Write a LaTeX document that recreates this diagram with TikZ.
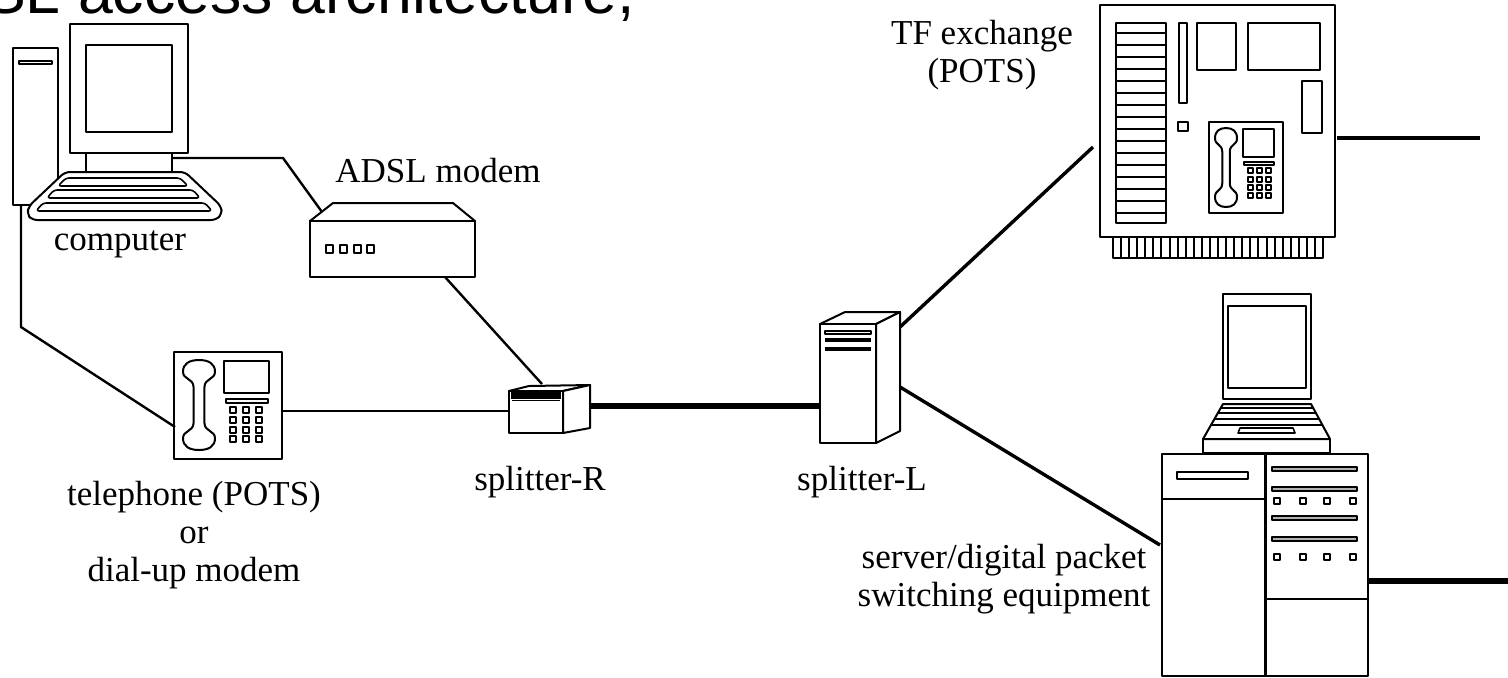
\documentclass[tikz,border=0pt]{standalone}
\usepackage{fontspec}
\setmainfont{Liberation Serif}
\newfontfamily\headfont{Liberation Sans}
% telephone handset (dumbbell outline), centred at x=#1, top at y=#2, width #3, height #4
\newcommand\drawhandset[4]{%
  \draw[shift={(#1,#2)}, xscale=#3, yscale=#4]
    (0,0) .. controls (0.3,0) and (0.5,0.04) .. (0.5,0.13)
          .. controls (0.5,0.22) and (0.18,0.2) .. (0.17,0.3)
          -- (0.17,0.7)
          .. controls (0.18,0.8) and (0.5,0.78) .. (0.5,0.87)
          .. controls (0.5,0.96) and (0.3,1) .. (0,1)
          .. controls (-0.3,1) and (-0.5,0.96) .. (-0.5,0.87)
          .. controls (-0.5,0.78) and (-0.18,0.8) .. (-0.17,0.7)
          -- (-0.17,0.3)
          .. controls (-0.18,0.2) and (-0.5,0.22) .. (-0.5,0.13)
          .. controls (-0.5,0.04) and (-0.3,0) .. (0,0) -- cycle;}
\begin{document}
\begin{tikzpicture}[x=0.5pt, y=-0.5pt, line width=1pt, line join=round,
  lbl/.style={font=\fontsize{17.5}{19}\selectfont, inner sep=0pt, align=center, anchor=base},
  headline/.style={font=\headfont\fontsize{31.3}{31.3}\selectfont, inner sep=0pt, anchor=base west},
  wire/.style={line width=1.2pt},
  feeder/.style={line width=1.7pt},
  trunk/.style={line width=3pt},
  keybar/.style={line width=0.8pt, rounded corners=1.5pt},
  slot/.style={line width=0.8pt}]
\useasboundingbox (0,0) rectangle (1508,677);
\clip (0,0) rectangle (1508,677);

% heading
\node[headline] (heading) at (-62,13) {DSL access architecture,};

% ---------- computer ----------
\draw[fill=white] (13,48) rectangle (58,205);
\draw[line width=1.2pt] (19,61) rectangle (52,64);
\draw[fill=white] (70,24) rectangle (188,153);
\draw (86,45) rectangle (172,132);
\draw (86,153) -- (86,172) (172,153) -- (172,172);
\draw[fill=white, rounded corners=2.5pt] (65,172) -- (185,172) -- (221,206) -- (222,214) -- (216,220)
      -- (32,220) -- (27,214) -- (29,206) -- cycle;
\draw[keybar] (66,178) -- (180,178) -- (188,186) -- (58,186) -- cycle;
\draw[keybar] (54,190) -- (193,190) -- (200,198) -- (47,198) -- cycle;
\draw[keybar] (43,203) -- (205,203) -- (212,211) -- (36,211) -- cycle;
\coordinate (pc-video) at (172,158);
\coordinate (pc-bend) at (283,158);
\coordinate (pc-tower) at (21,206);
\coordinate (tower-bend) at (21,327);

% ---------- ADSL modem ----------
\draw[fill=white] (310,221) -- (333,203) -- (453,203) -- (475,221) -- cycle;
\draw[fill=white] (310,221) rectangle (475,277);
\foreach \lx in {326,340,354,367} \draw[line width=1.2pt] (\lx,245) rectangle ++(7,8);
\coordinate (modem-in) at (322,212);
\coordinate (modem-out) at (445,277);

% ---------- telephone ----------
\draw[fill=white] (174,352) rectangle (282,459);
\drawhandset{199}{360}{32}{90}
\draw (224,361) rectangle (269,393);
\draw[line width=1.2pt] (226,399) rectangle (268,403);
\foreach \kx in {230,243,256} \foreach \ky in {407,417,427,436}
  \draw[line width=1.3pt] (\kx,\ky) rectangle ++(6,6);
\coordinate (phone-in) at (175,427);
\coordinate (phone-out) at (282,411);

% ---------- splitter-R ----------
\draw[fill=white] (509,391) -- (529,386) -- (590,385) -- (563,391) -- cycle;
\draw[fill=white] (563,391) -- (590,385) -- (590,428) -- (563,433) -- cycle;
\draw[fill=white] (509,391) rectangle (563,433);
\fill (511,392) rectangle (561,399);
\draw[line width=0.6pt] (512,400.5) -- (560,400.5);
\coordinate (spR-west) at (509,411);
\coordinate (spR-top) at (542,384);
\coordinate (spR-east) at (590,406);

% ---------- splitter-L ----------
\draw[fill=white] (820,324) -- (845,312) -- (900,312) -- (876,324) -- cycle;
\draw[fill=white] (876,324) -- (900,312) -- (900,431) -- (876,443) -- cycle;
\draw[fill=white] (820,324) rectangle (876,443);
\draw[slot] (825,331) rectangle (871,334);
\draw[line width=2pt] (825,340) -- (871,340) (825,349) -- (871,349);
\coordinate (spL-west) at (820,406);
\coordinate (spL-ne) at (900,327);
\coordinate (spL-se) at (900,387);

% ---------- TF exchange ----------
\draw[fill=white] (1100,5) rectangle (1335,237);
\draw (1113,237) rectangle (1323,258);
\foreach \k in {1,...,25} \draw (1113+\k*8.08,237) -- ++(0,21);
\draw (1116,23) rectangle (1166,223);
\foreach \k in {0,...,15} \draw[line width=1.3pt] (1116,33+\k*12) -- (1166,33+\k*12);
\draw (1179,23) rectangle (1187,103);
\draw (1178,122) rectangle (1188,131);
\draw (1197,23) rectangle (1236,70);
\draw (1248,23) rectangle (1320,70);
\draw (1302,81) rectangle (1322,133);
\draw (1209,122) rectangle (1283,213);
\drawhandset{1226}{128}{22}{79}
\draw (1243,129) rectangle (1274,157);
\draw[line width=1.2pt] (1244,162) rectangle (1274,165);
\foreach \kx in {1248,1257,1266} \foreach \ky in {168,177,185,193}
  \draw[line width=1.2pt] (\kx,\ky) rectangle ++(5,5);
\coordinate (tf-west) at (1093,147);
\coordinate (tf-east) at (1337,138);
\coordinate (tf-trunk) at (1480,138);

% ---------- server / packet switch ----------
\draw[fill=white] (1223,294) rectangle (1311,399);
\draw (1228,306) rectangle (1306,388);
\draw[fill=white] (1223,404) -- (1311,404) -- (1330,439) -- (1203,439) -- cycle;
\draw (1203,439) rectangle (1330,453);
\draw[keybar] (1221,408) -- (1313,408);
\draw[keybar] (1218,413) -- (1316,413);
\draw[keybar] (1215,419) -- (1319,419);
\draw[keybar] (1212,425) -- (1322,425);
\draw[slot] (1240,428) -- (1293,428) -- (1295,433) -- (1238,433) -- cycle;
\draw[fill=white] (1162,454) rectangle (1368,676);
\draw[line width=1.5pt] (1265,454) -- (1265,677);
\draw (1162,499) -- (1265,499);
\draw (1265,599) -- (1368,599);
\draw (1177,472) rectangle (1248,479);
\foreach \by in {467,487,516,537} \draw[slot, fill=gray!60] (1272,\by) rectangle (1357,\by+4);
\foreach \sx in {1274,1300,1324,1350} \foreach \sy in {498,554}
  \draw[line width=1.2pt] (\sx,\sy) rectangle ++(6,6);
\coordinate (srv-west) at (1160,545);
\coordinate (srv-east) at (1368,581);
\coordinate (srv-trunk) at (1508,581);

% ---------- connectors ----------
\draw[wire] (pc-video) -- (pc-bend) -- (modem-in);
\draw[wire] (pc-tower) -- (tower-bend) -- (phone-in);
\draw[wire] (modem-out) -- (spR-top);
\draw[wire] (phone-out) -- (spR-west);
\draw[trunk] (spR-east) -- (spL-west);
\draw[feeder] (spL-ne) -- (tf-west);
\draw[feeder] (spL-se) -- (srv-west);
\draw[line width=2.4pt] (tf-east) -- (tf-trunk);
\draw[trunk] (srv-east) -- (srv-trunk);

% ---------- labels (base anchor = baseline of the last line) ----------
\node[lbl] (lbl-computer) at (120,250) {computer};
\node[lbl] (lbl-modem) at (438,182) {ADSL modem};
\node[lbl] (lbl-phone) at (194,581) {telephone (POTS)\\or\\dial-up modem};
\node[lbl] (lbl-spR) at (540,490) {splitter-R};
\node[lbl] (lbl-spL) at (862,490) {splitter-L};
\node[lbl] (lbl-tf) at (982,82) {TF exchange\\(POTS)};
\node[lbl] (lbl-srv) at (1004,606) {server/digital packet\\switching equipment};
\end{tikzpicture}
\end{document}
